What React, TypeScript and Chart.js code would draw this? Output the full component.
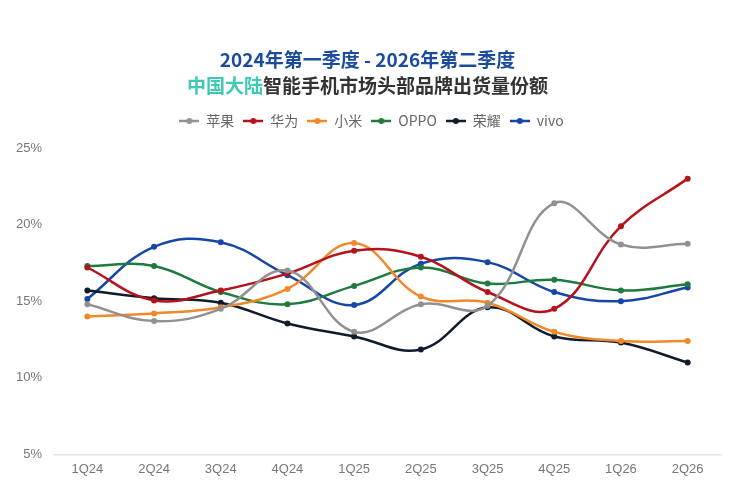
import React, { useEffect, useRef } from 'react';
import { Chart, registerables } from 'chart.js';

Chart.register(...registerables);

const quarters = ['1Q24', '2Q24', '3Q24', '4Q24', '1Q25', '2Q25', '3Q25', '4Q25', '1Q26', '2Q26'];
const yTicks = [5, 10, 15, 20, 25];

const apple = [14.8, 13.7, 14.5, 17.0, 13.0, 14.8, 14.7, 21.4, 18.7, 18.75];
const huawei = [17.2, 15.05, 15.7, 16.8, 18.3, 17.9, 15.6, 14.5, 19.9, 23.0];
const xiaomi = [14.0, 14.2, 14.6, 15.8, 18.8, 15.3, 14.9, 13.0, 12.4, 12.4];
const oppo = [17.3, 17.3, 15.6, 14.8, 16.0, 17.2, 16.15, 16.4, 15.7, 16.1];
const honor = [15.7, 15.2, 14.9, 13.55, 12.7, 11.85, 14.6, 12.7, 12.3, 11.0];
const vivo = [15.15, 18.55, 18.85, 16.7, 14.75, 17.45, 17.55, 15.6, 15.0, 15.9];

const seriesNames = ['苹果', '华为', '小米', 'OPPO', '荣耀', 'vivo'];
const seriesColors = ['#919191', '#b5121b', '#f0892a', '#1f7a3e', '#101b2b', '#1747a6'];
const seriesValues = [apple, huawei, xiaomi, oppo, honor, vivo];

const FONT = '"Noto Sans CJK SC", "Noto Sans", sans-serif';
const TICK_FONT = '"Liberation Sans", sans-serif';

// 범례 아이콘: 선 + 가운데 점
function legendIcon(color: string) {
  const c = document.createElement('canvas');
  c.width = 20;
  c.height = 10;
  const ctx = c.getContext('2d');
  if (ctx) {
    ctx.strokeStyle = color;
    ctx.lineWidth = 2.5;
    ctx.beginPath();
    ctx.moveTo(0, 5);
    ctx.lineTo(20, 5);
    ctx.stroke();
    ctx.fillStyle = color;
    ctx.beginPath();
    ctx.arc(10, 5, 3, 0, Math.PI * 2);
    ctx.fill();
  }
  return c;
}

// 범례 아래 여백 + 오른쪽으로 조금 이동
const legendTweak = {
  id: 'legendTweak',
  beforeInit(chart: any) {
    const legend = chart.legend;
    const fit = legend.fit;
    legend.fit = function () {
      fit.call(legend);
      legend.height += 10;
    };
    const draw = legend.draw;
    legend.draw = function (...args: any[]) {
      const ctx = chart.ctx;
      ctx.save();
      ctx.translate(11, 0);
      draw.apply(legend, args);
      ctx.restore();
    };
  },
};

const App: React.FC = () => {
  const chartRef = useRef<HTMLCanvasElement>(null);
  const chartInstance = useRef<Chart | null>(null);

  useEffect(() => {
    document.body.style.margin = '0';
    if (!chartRef.current) return;
    if (chartInstance.current) chartInstance.current.destroy();
    const ctx = chartRef.current.getContext('2d');
    if (!ctx) return;

    const icons = seriesColors.map(legendIcon);

    chartInstance.current = new Chart(ctx, {
      type: 'line',
      plugins: [legendTweak],
      data: {
        labels: quarters,
        datasets: seriesNames.map((name, i) => ({
          label: name,
          data: seriesValues[i],
          borderColor: seriesColors[i],
          backgroundColor: seriesColors[i],
          borderWidth: 2.5,
          pointRadius: 3,
          pointBackgroundColor: seriesColors[i],
          pointBorderWidth: 0,
          tension: 0.4,
          fill: false,
        })),
      },
      options: {
        responsive: true,
        maintainAspectRatio: false,
        animation: false,
        layout: { padding: { top: 105, right: 14, bottom: 2, left: 0 } },
        plugins: {
          legend: {
            position: 'top',
            labels: {
              usePointStyle: true,
              pointStyleWidth: 20,
              padding: 9,
              color: '#666',
              font: { family: FONT, size: 14 },
              generateLabels: (chart: any) =>
                chart.data.datasets.map((ds: any, i: number) => ({
                  text: ds.label,
                  fillStyle: ds.borderColor,
                  strokeStyle: ds.borderColor,
                  fontColor: '#666',
                  pointStyle: icons[i],
                  lineWidth: 0,
                  hidden: !chart.isDatasetVisible(i),
                  datasetIndex: i,
                })),
            },
          },
          tooltip: { enabled: false },
        },
        scales: {
          x: {
            offset: true,
            grid: { display: false, drawTicks: false },
            border: { color: '#e6e6e6', width: 1.5 },
            ticks: { color: '#777', padding: 7, font: { family: TICK_FONT, size: 13 } },
          },
          y: {
            min: 5,
            max: 25,
            afterFit: (scale: any) => {
              scale.width = 54;
            },
            afterBuildTicks: (scale: any) => {
              scale.ticks = yTicks.map((v) => ({ value: v }));
            },
            grid: { display: false, drawTicks: false },
            border: { display: false },
            ticks: {
              color: '#777',
              padding: 12,
              font: { family: TICK_FONT, size: 13 },
              callback: (v: any) => v + '%',
            },
          },
        },
      },
    });

    return () => {
      if (chartInstance.current) {
        chartInstance.current.destroy();
        chartInstance.current = null;
      }
    };
  }, []);

  return (
    <div style={{ position: 'relative', width: 735, height: 486, background: '#fff' }}>
      <div
        style={{
          position: 'absolute',
          top: 46,
          left: 0,
          width: 735,
          textAlign: 'center',
          fontFamily: FONT,
          fontWeight: 700,
          fontSize: 19,
          lineHeight: '26px',
        }}
      >
        <div style={{ color: '#1a4b9c' }}>2024年第一季度 - 2026年第二季度</div>
        <div style={{ color: '#333' }}>
          <span style={{ color: '#3ec9b2' }}>中国大陆</span>智能手机市场头部品牌出货量份额
        </div>
      </div>
      <canvas ref={chartRef}></canvas>
    </div>
  );
};

export default App;
